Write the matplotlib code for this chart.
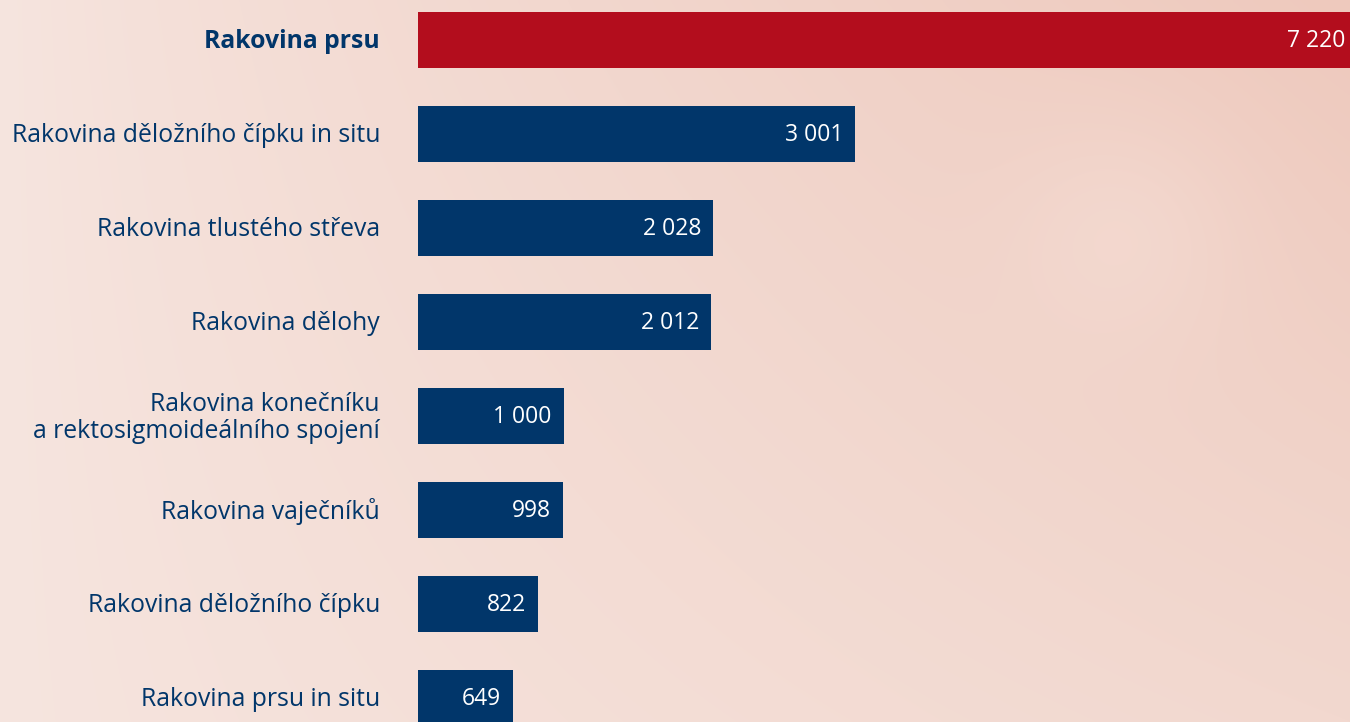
import numpy as np
import matplotlib
matplotlib.use("Agg")
import matplotlib.pyplot as plt
from matplotlib.colors import to_rgb

categories = [
    "Rakovina prsu",
    "Rakovina děložního čípku in situ",
    "Rakovina tlustého střeva",
    "Rakovina dělohy",
    "Rakovina konečníku\na rektosigmoideálního spojení",
    "Rakovina vaječníků",
    "Rakovina děložního čípku",
    "Rakovina prsu in situ",
]
values = [7220, 3001, 2028, 2012, 1000, 998, 822, 649]
value_labels = ["7 220", "3 001", "2 028", "2 012", "1 000", "998", "822", "649"]

RED = "#B30D1D"
NAVY = "#01366A"

W, H, DPI = 1350, 722, 100
fig = plt.figure(figsize=(W / DPI, H / DPI), dpi=DPI)

# background gradient
bg = fig.add_axes([0, 0, 1, 1])
bg.set_axis_off()
xx, yy = np.meshgrid(np.linspace(0, 1, W // 2), np.linspace(0, 1, H // 2))
c_left = np.array(to_rgb("#F6E5DF"))
c_right_top = np.array(to_rgb("#EEC9BD"))
c_right_bot = np.array(to_rgb("#F2D8CF"))
c_right = c_right_top[None, None, :] * (1 - yy[..., None]) + c_right_bot[None, None, :] * yy[..., None]
t = np.clip(xx, 0, 1)[..., None] ** 0.8
img = c_left[None, None, :] * (1 - t) + c_right * t
blob = np.exp(-(((xx - 0.83) * W) ** 2 + ((yy - 0.33) * H) ** 2) / (2 * 80.0 ** 2))
light = np.array(to_rgb("#F5DCD3"))
img = img * (1 - 0.6 * blob[..., None]) + light[None, None, :] * 0.6 * blob[..., None]
bg.imshow(img, extent=[0, 1, 0, 1], aspect="auto", interpolation="bicubic")
bg.set_xlim(0, 1)
bg.set_ylim(0, 1)

left = 418 / W
ax = fig.add_axes([left, 0, 1 - left, 1])
ax.patch.set_alpha(0)
XMAX = 6400
y = np.arange(len(categories))
colors = [RED] + [NAVY] * (len(categories) - 1)
ax.barh(y, values, height=0.596, color=colors, left=0)
ax.set_xlim(0, XMAX)
ax.set_ylim((722 - 40) / 94, -40 / 94)
ax.set_axis_off()

for i, (v, lab) in enumerate(zip(values, value_labels)):
    if v > XMAX:
        ax.annotate(lab, (XMAX, i), xytext=(-5, -1), textcoords="offset pixels",
                    ha="right", va="center", color="white", fontsize=16.5,
                    family="Open Sans", clip_on=False)
    else:
        ax.annotate(lab, (v, i), xytext=(-12, -1), textcoords="offset pixels",
                    ha="right", va="center", color="white", fontsize=16.5,
                    family="Open Sans")

for i, cat in enumerate(categories):
    bold = i == 0
    ax.annotate(cat, (0, i), xytext=(-38, -2), textcoords="offset pixels",
                ha="right", va="center", color=NAVY, fontsize=17.8,
                family="Open Sans", fontweight="bold" if bold else "normal",
                linespacing=1.1, annotation_clip=False)

fig.savefig("out.png", dpi=DPI)
